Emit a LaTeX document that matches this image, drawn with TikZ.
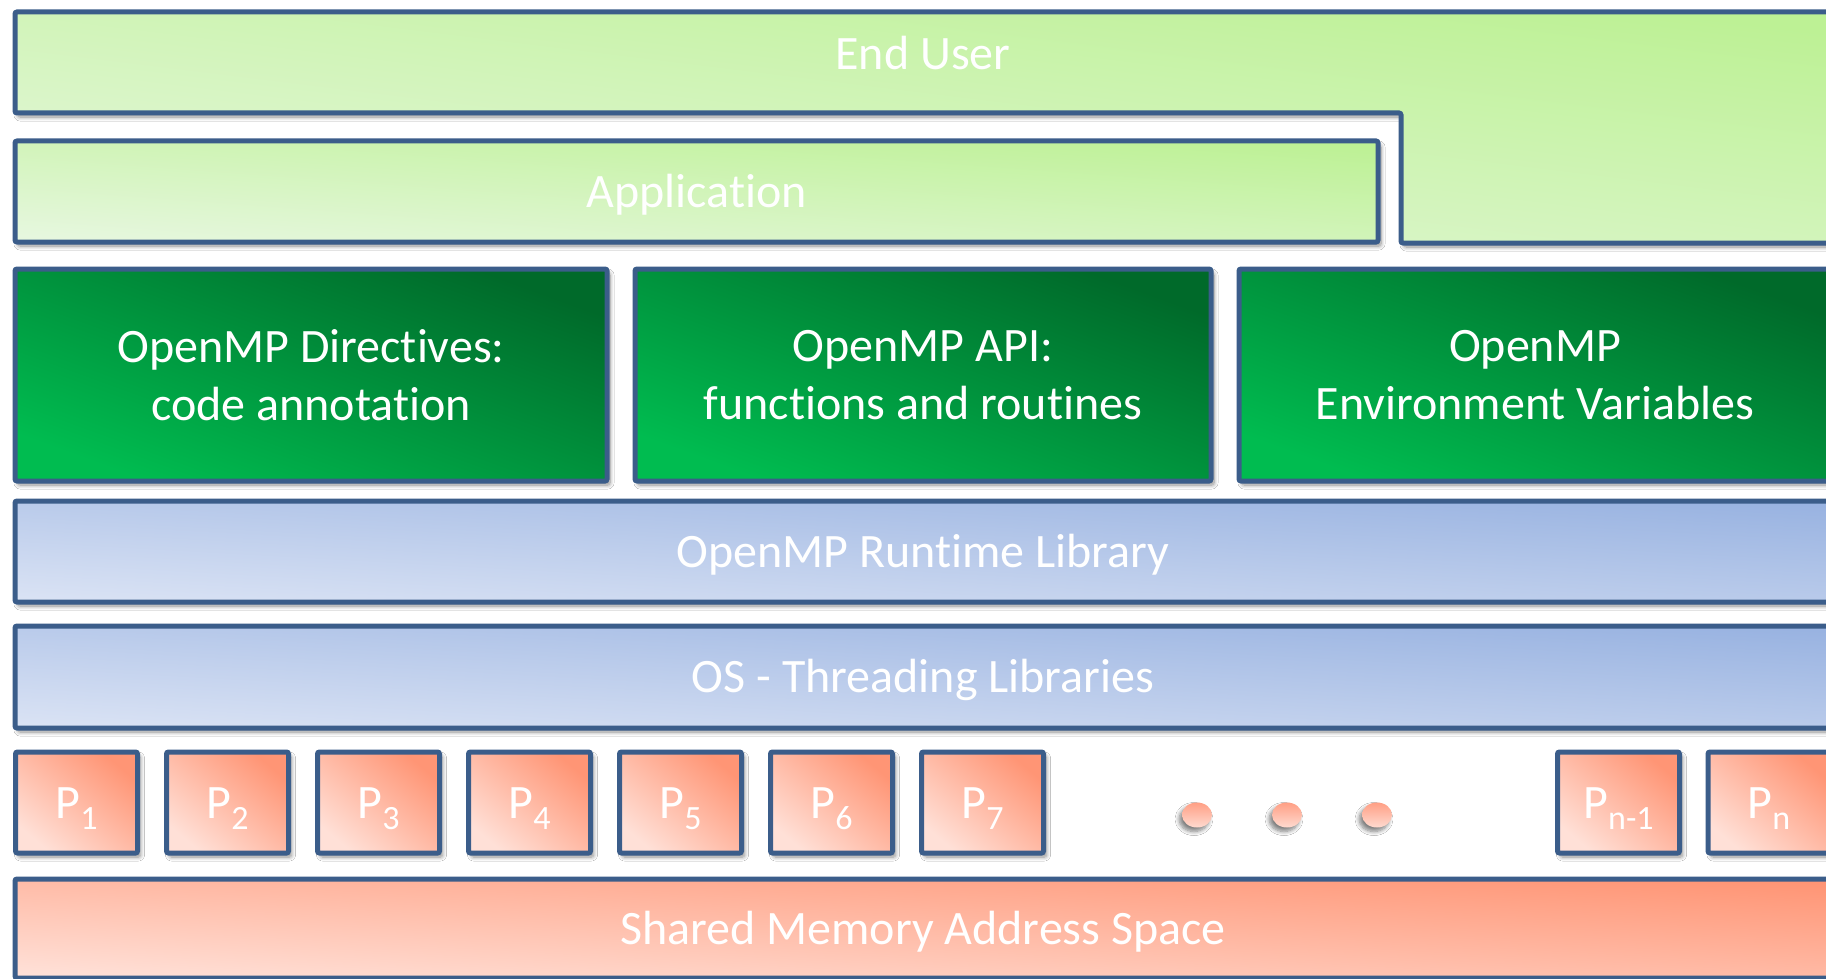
\documentclass[tikz,border=0pt]{standalone}
\usepackage{fontspec}
\setmainfont{Carlito}[Ligatures=NoCommon]
\usetikzlibrary{shadows,shadows.blur,shapes.geometric}
\definecolor{bordercol}{HTML}{3B5D8A}
\definecolor{lgT}{HTML}{BDF195}
\definecolor{lgB}{HTML}{E6F7DE}
\definecolor{dgT}{HTML}{006A2A}
\definecolor{dgB}{HTML}{00BC50}
\definecolor{blT}{HTML}{99B3E1}
\definecolor{blB}{HTML}{D9E2F4}
\definecolor{saT}{HTML}{FF9575}
\definecolor{saB}{HTML}{FFE0D7}
\definecolor{dotT}{HTML}{FF9F85}
\definecolor{dotB}{HTML}{FFDACF}
\newcommand{\proc}[1]{P\raisebox{-11pt}{\fontsize{34}{34}\selectfont #1}}
\begin{document}
\begin{tikzpicture}[x=1pt,y=-1pt,
  every node/.style={inner sep=0pt, outer sep=0pt},
  bshadow/.style={blur shadow={shadow xshift=3pt, shadow yshift=-4pt, shadow blur radius=4pt, shadow blur steps=8, shadow opacity=45}},
  box/.style={draw=bordercol, line width=5pt, rounded corners=2pt, bshadow},
  label/.style={text=white, font=\fontsize{48}{58}\selectfont, text height=31pt, text depth=0pt},
  mlabel/.style={text=white, font=\fontsize{48}{58}\selectfont, align=center},
  lg/.style={top color=lgT, bottom color=lgB, shading angle=#1},
  dg/.style={top color=dgT, bottom color=dgB, shading angle=#1},
  bl/.style={top color=blT, bottom color=blB, shading angle=#1},
  sa/.style={top color=saT, bottom color=saB, shading angle=#1},
  procbox/.style={box, sa=-40, minimum width=122pt, minimum height=101pt, label},
  dotnode/.style={ellipse, minimum width=30pt, minimum height=25pt, top color=dotT, bottom color=dotB,
    blur shadow={shadow xshift=-3pt, shadow yshift=-4pt, shadow blur radius=4pt, shadow blur steps=8, shadow opacity=50}}
]
\useasboundingbox (0,0) rectangle (1826,979);
\fill[white] (0,0) rectangle (1826,979);

% End User (L-shaped)
\path[box, lg=-7] (15,12) -- (1850,12) -- (1850,243) -- (1401,243) -- (1401,113) -- (15,113) -- cycle;
\node[label] (enduser) at (923,54) {End User};

% Application
\node[box, lg=-4.2, label, minimum width=1363pt, minimum height=101pt] (app) at (696.5,191.5) {Application};

% OpenMP components
\node[box, dg=-20, mlabel, minimum width=592pt, minimum height=212pt] (dir) at (311,375) {OpenMP Directives:\\code annotation};
\node[box, dg=-20, mlabel, minimum width=576pt, minimum height=212pt] (api) at (923,375) {OpenMP API:\\functions and routines};
\node[box, dg=-20, mlabel, minimum width=592pt, minimum height=212pt] (env) at (1535,375) {OpenMP\\Environment Variables};

% Runtime and OS
\node[box, bl=-3.2, label, minimum width=1816pt, minimum height=101pt] (rtl) at (923,551.5) {OpenMP Runtime Library};
\node[box, bl=-3.2, label, minimum width=1816pt, minimum height=102pt] (os) at (923,677) {OS - Threading Libraries};

% Processors
\node[procbox] (p1) at (76.5,802.5) {\proc{1}};
\node[procbox] (p2) at (227.5,802.5) {\proc{2}};
\node[procbox] (p3) at (378.5,802.5) {\proc{3}};
\node[procbox] (p4) at (529.5,802.5) {\proc{4}};
\node[procbox] (p5) at (680.5,802.5) {\proc{5}};
\node[procbox] (p6) at (831.5,802.5) {\proc{6}};
\node[procbox] (p7) at (982.5,802.5) {\proc{7}};
\node[procbox] (pn1) at (1618.5,802.5) {\proc{n-1}};
\node[procbox] (pn) at (1769,802.5) {\proc{n}};

% dots
\node[dotnode] (d1) at (1197,815) {};
\node[dotnode] (d2) at (1287,815) {};
\node[dotnode] (d3) at (1377,815) {};

% Shared memory
\node[box, sa=-3.2, label, minimum width=1816pt, minimum height=99pt] (shm) at (923,928.5) {Shared Memory Address Space};
\end{tikzpicture}
\end{document}
